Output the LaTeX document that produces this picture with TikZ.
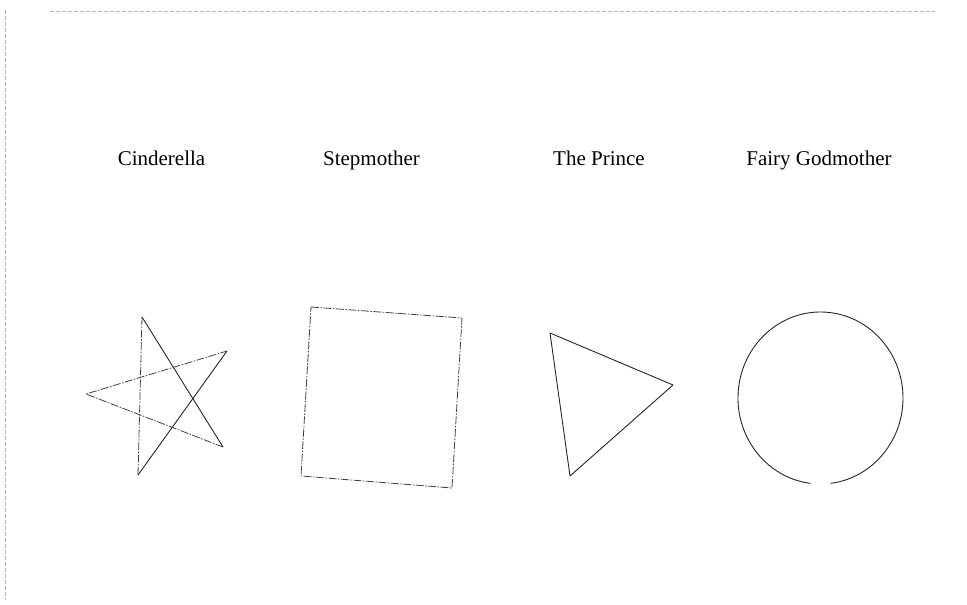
\documentclass[tikz,border=0pt]{standalone}
\usepackage{fontspec}
\setmainfont{Liberation Serif}
\usetikzlibrary{positioning}

\begin{document}
\begin{tikzpicture}[x=1pt, y=-1pt,
  rolename/.style={font=\fontsize{21}{24}\selectfont, inner sep=0pt, anchor=base},
  solidline/.style={line width=0.9pt, black!85, line join=round},
  faintline/.style={line width=0.8pt, black!75, dash pattern=on 8pt off 1.5pt on 1.5pt off 1.5pt},
  frameline/.style={gray!60, line width=0.6pt, dash pattern=on 4pt off 2pt}
]
\useasboundingbox (0,0) rectangle (967,605);

% scanned frame
\draw[frameline] (50,11) -- (935,11);
\draw[frameline] (5,10) -- (5,600);

% character names
\node[rolename] (cinderella) at (161.5,165) {Cinderella};
\node[rolename] (stepmother) at (371.5,165) {Stepmother};
\node[rolename] (prince)     at (599,165)   {The Prince};
\node[rolename] (godmother)  at (819,165)   {Fairy Godmother};

% star
\coordinate (s1) at (142,317);
\coordinate (s2) at (223,447);
\coordinate (s3) at (86,394);
\coordinate (s4) at (227,351);
\coordinate (s5) at (138,475);
\draw[solidline] (s1) -- (s2);
\draw[faintline] (s2) -- (s3) -- (s4);
\draw[solidline] (s4) -- (s5);
\draw[faintline] (s5) -- (s1);

% square
\draw[faintline] (311,307) -- (462,318) -- (452,488) -- (301,476) -- cycle;

% triangle
\draw[solidline] (550,333) -- (673,385) -- (570,476) -- cycle;

% circle
\coordinate (gm) at (820.5,398);
\draw[solidline] ([shift={(97:82.5 and 86)}]gm) arc[start angle=97, end angle=443, x radius=82.5, y radius=86];
\end{tikzpicture}
\end{document}
